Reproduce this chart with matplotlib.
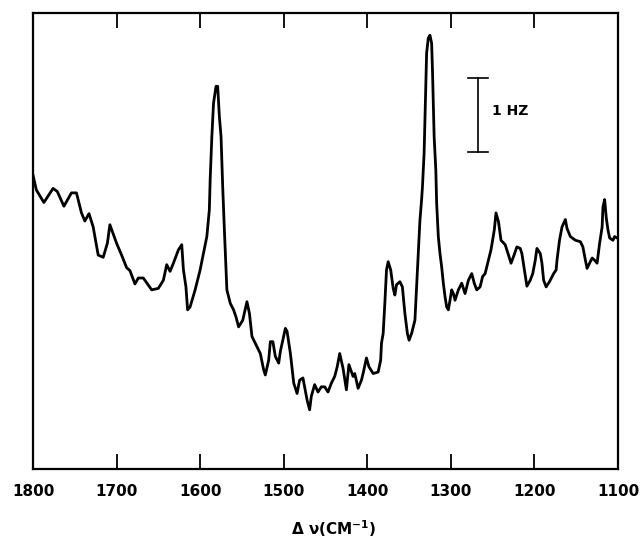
import numpy as np
import matplotlib
matplotlib.use('Agg')
import matplotlib.pyplot as plt

# Raman shift (cm-1) and signal (Hz)
shift = [1800, 1796, 1787, 1776, 1771, 1763, 1754, 1748, 1742, 1738,
         1733, 1728, 1722, 1716, 1711, 1708, 1700, 1694, 1688, 1684,
         1678, 1674, 1668, 1658, 1650, 1644, 1640, 1636, 1632, 1626,
         1622, 1620, 1617, 1615, 1612, 1606, 1600, 1592, 1589, 1588,
         1586, 1584, 1581, 1579, 1577, 1575, 1573, 1571, 1568, 1564,
         1560, 1557, 1554, 1549, 1544, 1541, 1538, 1532, 1528, 1524,
         1522, 1518, 1516, 1513, 1510, 1506, 1504, 1498, 1496, 1492,
         1488, 1484, 1481, 1477, 1472, 1469, 1467, 1463, 1459, 1455,
         1451, 1447, 1443, 1439, 1436, 1433, 1429, 1425, 1422, 1417,
         1415, 1411, 1407, 1405, 1401, 1398, 1393, 1387, 1384, 1383,
         1381, 1379, 1377, 1375, 1372, 1369, 1367, 1365, 1361, 1358,
         1355, 1352, 1350, 1347, 1343, 1341, 1339, 1337, 1335, 1334,
         1332, 1331, 1330, 1329, 1327, 1325, 1323, 1322, 1321, 1320,
         1318, 1317, 1315, 1313, 1311, 1309, 1307, 1305, 1303, 1301,
         1299, 1297, 1295, 1291, 1287, 1283, 1279, 1275, 1272, 1269,
         1265, 1262, 1259, 1255, 1252, 1248, 1246, 1243, 1240, 1235,
         1231, 1228, 1225, 1221, 1217, 1215, 1212, 1209, 1205, 1202,
         1199, 1197, 1193, 1191, 1189, 1186, 1182, 1177, 1174, 1173,
         1170, 1167, 1163, 1161, 1157, 1151, 1145, 1142, 1139, 1137,
         1134, 1131, 1128, 1125, 1122, 1119, 1118, 1116, 1114, 1112,
         1110, 1106, 1104, 1101]
signal = [3.97, 3.77, 3.60, 3.79, 3.75, 3.55, 3.73, 3.73, 3.46, 3.35,
          3.45, 3.27, 2.89, 2.86, 3.05, 3.30, 3.05, 2.89, 2.72, 2.68,
          2.50, 2.58, 2.58, 2.42, 2.44, 2.55, 2.76, 2.67, 2.78, 2.96,
          3.03, 2.69, 2.46, 2.15, 2.19, 2.42, 2.69, 3.14, 3.50, 3.91,
          4.49, 4.94, 5.17, 5.17, 4.76, 4.49, 3.81, 3.23, 2.42, 2.24,
          2.15, 2.05, 1.92, 2.01, 2.26, 2.10, 1.79, 1.65, 1.56, 1.34,
          1.27, 1.47, 1.72, 1.72, 1.52, 1.43, 1.59, 1.90, 1.86, 1.56,
          1.16, 1.02, 1.20, 1.23, 0.93, 0.80, 0.98, 1.14, 1.04, 1.11,
          1.11, 1.04, 1.16, 1.25, 1.38, 1.56, 1.36, 1.07, 1.41, 1.25,
          1.29, 1.09, 1.20, 1.29, 1.50, 1.38, 1.29, 1.31, 1.47, 1.70,
          1.83, 2.24, 2.69, 2.80, 2.69, 2.44, 2.35, 2.49, 2.53, 2.46,
          2.10, 1.83, 1.74, 1.83, 2.01, 2.46, 2.91, 3.36, 3.64, 3.81,
          4.27, 4.72, 5.17, 5.62, 5.82, 5.86, 5.75, 5.39, 4.94, 4.49,
          4.04, 3.59, 3.14, 2.91, 2.73, 2.51, 2.33, 2.19, 2.15, 2.28,
          2.42, 2.37, 2.28, 2.42, 2.51, 2.37, 2.55, 2.64, 2.51, 2.42,
          2.46, 2.60, 2.64, 2.82, 2.96, 3.23, 3.46, 3.34, 3.09, 3.03,
          2.89, 2.78, 2.87, 3.00, 2.98, 2.91, 2.69, 2.47, 2.55, 2.64,
          2.82, 2.98, 2.91, 2.78, 2.55, 2.46, 2.53, 2.64, 2.69, 2.82,
          3.09, 3.27, 3.37, 3.25, 3.14, 3.09, 3.07, 3.00, 2.82, 2.71,
          2.78, 2.85, 2.82, 2.78, 3.05, 3.27, 3.54, 3.64, 3.39, 3.23,
          3.12, 3.09, 3.14, 3.12]

xticks = [1800, 1700, 1600, 1500, 1400, 1300, 1200, 1100]

# 1 Hz scale bar
bar_x = 1267
bar_lo, bar_hi = 4.28, 5.28

fig = plt.figure(figsize=(6.41, 5.40), dpi=100)
ax = fig.add_axes([33/641, 71/540, 585/641, 456/540])

ax.plot(shift, signal, color='black', lw=2.0, solid_joinstyle='round')

ax.plot([bar_x, bar_x], [bar_lo, bar_hi], color='black', lw=1.2)
for yy in (bar_lo, bar_hi):
    ax.plot([bar_x + 12, bar_x - 12], [yy, yy], color='black', lw=1.2)
ax.text(bar_x - 16, 4.84, '1 HZ', fontsize=10, fontweight='bold',
        ha='left', va='center')

ax.set_xlim(1800, 1100)
ax.set_ylim(0, 6.16)
ax.set_xticks(xticks)
ax.set_xticklabels([str(t) for t in xticks], fontsize=11, fontweight='bold')
ax.set_yticks([])
ax.tick_params(axis='x', direction='in', length=11, width=1.3,
               top=True, bottom=True, pad=11)
for s in ax.spines.values():
    s.set_linewidth(1.6)

fig.text(334/641, 1 - 529/540, r'Δ ν(CM$^{\mathbf{-1}}$)', fontsize=11,
         fontweight='bold', ha='center', va='center')

fig.savefig('out.png', dpi=100)
